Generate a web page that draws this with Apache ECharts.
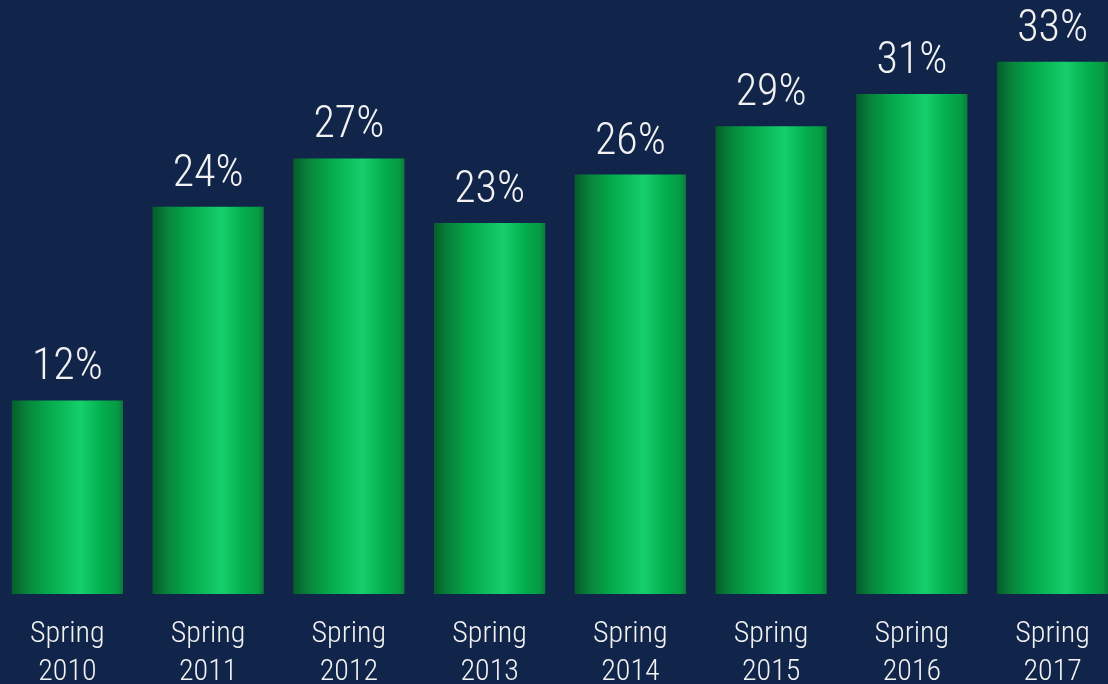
<!DOCTYPE html>
<html><head><meta charset="utf-8">
<script src="https://cdn.jsdelivr.net/npm/echarts@6/dist/echarts.min.js"></script>
<style>html,body{margin:0;padding:0;background:#11254a;}#c{width:1108px;height:684px;}</style>
</head><body><div id="c"></div>
<script>
const categories = ['Spring\n2010','Spring\n2011','Spring\n2012','Spring\n2013','Spring\n2014','Spring\n2015','Spring\n2016','Spring\n2017'];
const values = [12, 24, 27, 23, 26, 29, 31, 33];

const FONT = '"Roboto Condensed", "Roboto", sans-serif';
const chart = echarts.init(document.getElementById('c'), null, {renderer:'canvas'});
const grad = new echarts.graphic.LinearGradient(0,0,1,0,[
  {offset:0, color:'#055e2a'},
  {offset:0.14, color:'#08853c'},
  {offset:0.32, color:'#04a84a'},
  {offset:0.62, color:'#16cf6c'},
  {offset:0.82, color:'#03ad4c'},
  {offset:0.95, color:'#069a44'},
  {offset:1, color:'#0a7a38'}
]);
chart.setOption({
  backgroundColor:'#11254a',
  animation:false,
  grid:{left:-3, width:1126, top:13.3, bottom:90, containLabel:false, outerBoundsMode:'none'},
  xAxis:{type:'category', data:categories,
    axisLine:{show:false}, axisTick:{show:false},
    axisLabel:{color:'#f2f2f2', fontFamily:FONT, fontWeight:300, fontSize:30, lineHeight:38, margin:21, interval:0}},
  yAxis:{type:'value', min:0, max:36, show:false, splitLine:{show:false}},
  series:[{type:'bar', data:values, barWidth:'79%',
    itemStyle:{color:grad},
    label:{show:true, position:'top', distance:10, formatter:'{c}%', color:'#f2f2f2', fontFamily:FONT, fontWeight:300, fontSize:44}}]
});
</script></body></html>
